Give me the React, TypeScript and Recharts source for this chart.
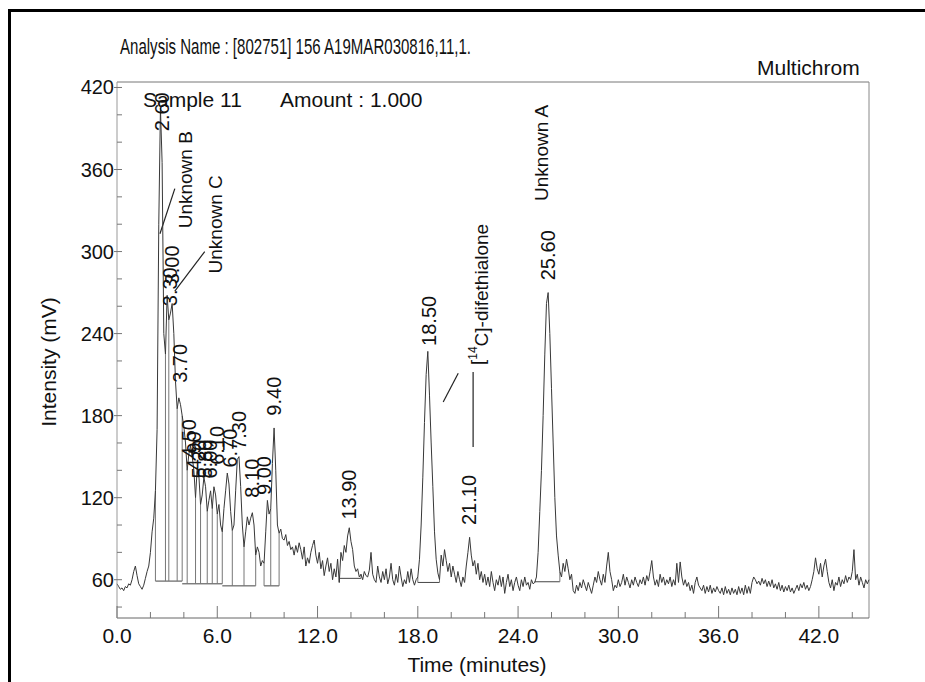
import { LineChart, Line, XAxis, YAxis, ReferenceLine, ReferenceDot } from 'recharts';

// detector trace, one row per minute, 10 samples per minute (0.1 min apart)
const traceRows: number[][] = [
  [57, 55, 53, 54, 52, 55, 54, 57, 56, 60],
  [66, 70, 63, 57, 55, 53, 56, 61, 66, 70],
  [80, 95, 105, 125, 170, 320, 405, 365, 240, 225],
  [268, 250, 255, 262, 240, 205, 185, 193, 188, 180],
  [172, 160, 140, 152, 158, 150, 140, 120, 142, 136],
  [115, 122, 135, 128, 110, 118, 125, 112, 128, 122],
  [108, 115, 100, 95, 112, 125, 138, 130, 110, 96],
  [100, 125, 148, 150, 128, 100, 84, 95, 106, 100],
  [105, 109, 100, 78, 84, 80, 70, 74, 72, 95],
  [118, 108, 112, 145, 171, 140, 100, 94, 97, 90],
  [89, 93, 85, 88, 82, 84, 78, 85, 80, 87],
  [82, 75, 84, 70, 76, 72, 80, 85, 89, 78],
  [72, 80, 68, 74, 63, 70, 76, 66, 72, 60],
  [68, 62, 75, 58, 80, 74, 85, 80, 92, 98],
  [88, 82, 70, 66, 68, 62, 64, 60, 66, 63],
  [62, 67, 80, 64, 60, 58, 70, 62, 58, 66],
  [60, 68, 57, 62, 72, 60, 56, 64, 58, 70],
  [62, 55, 60, 57, 66, 58, 68, 60, 56, 60],
  [62, 75, 100, 135, 175, 210, 227, 195, 160, 128],
  [95, 75, 65, 60, 78, 70, 82, 74, 66, 72],
  [62, 70, 64, 58, 66, 60, 55, 62, 58, 70],
  [80, 91, 78, 70, 74, 64, 72, 60, 66, 58],
  [64, 56, 62, 55, 66, 58, 52, 60, 56, 63],
  [55, 62, 50, 58, 64, 55, 60, 52, 58, 62],
  [56, 52, 60, 55, 62, 56, 58, 53, 60, 57],
  [58, 62, 80, 110, 140, 180, 225, 262, 270, 240],
  [200, 160, 120, 92, 78, 66, 62, 72, 66, 75],
  [68, 60, 64, 52, 50, 56, 52, 58, 54, 60],
  [56, 52, 58, 54, 50, 56, 62, 58, 66, 60],
  [56, 64, 58, 70, 80, 66, 60, 52, 56, 54],
  [60, 55, 58, 64, 56, 62, 58, 54, 60, 56],
  [62, 58, 55, 60, 57, 62, 56, 63, 59, 66],
  [74, 62, 56, 60, 55, 64, 58, 62, 56, 60],
  [57, 62, 55, 60, 56, 72, 58, 73, 62, 56],
  [60, 55, 58, 52, 56, 50, 58, 62, 56, 54],
  [52, 56, 50, 55, 51, 56, 50, 54, 51, 55],
  [52, 50, 54, 49, 55, 50, 53, 49, 54, 50],
  [53, 49, 55, 50, 54, 49, 56, 50, 55, 50],
  [58, 62, 60, 57, 59, 56, 61, 57, 60, 55],
  [59, 55, 60, 54, 57, 53, 58, 52, 56, 51],
  [55, 52, 56, 51, 54, 50, 53, 56, 52, 57],
  [54, 58, 53, 56, 52, 55, 60, 66, 76, 68],
  [64, 72, 62, 70, 75, 66, 58, 54, 60, 52],
  [58, 56, 62, 55, 60, 57, 63, 58, 62, 60],
  [66, 82, 60, 64, 56, 62, 58, 54, 60, 57],
  [60],
];
const samplesPerMinute = 10;

const xTicks = [0, 2, 4, 6, 8, 10, 12, 14, 16, 18, 20, 22, 24, 26, 28, 30, 32, 34, 36, 38, 40, 42, 44];
const yTicks = [40, 60, 80, 100, 120, 140, 160, 180, 200, 220, 240, 260, 280, 300, 320, 340, 360, 380, 400, 420];

// integration baselines and drop lines
const baselineRuns = [
  { from: 2.3, to: 3.9, level: 59 },
  { from: 3.9, to: 6.3, level: 57 },
  { from: 6.3, to: 8.3, level: 55.5 },
  { from: 8.8, to: 9.7, level: 55.5 },
  { from: 13.3, to: 14.6, level: 61 },
  { from: 18.0, to: 19.3, level: 58 },
  { from: 25.0, to: 26.5, level: 58.5 },
];
const dropTimes = [2.3, 2.9, 3.1, 3.6, 3.9, 4.2, 4.7, 5.0, 5.4, 5.7, 6.0, 6.3, 6.9, 7.6, 8.3, 8.8, 9.2, 9.7, 13.3, 14.6, 18.0, 19.3, 25.0, 26.5];

// retention-time labels: where the text starts (t, mV)
const peakLabels = [
  { t: 2.69, v: 388, text: '2.60' },
  { t: 3.16, v: 260, text: '3.30' },
  { t: 3.28, v: 276, text: '3.00' },
  { t: 3.76, v: 204, text: '3.70' },
  { t: 4.3, v: 149, text: '4.50' },
  { t: 4.6, v: 140, text: '4.90' },
  { t: 4.9, v: 134, text: '5.20' },
  { t: 5.25, v: 134, text: '5.80' },
  { t: 5.55, v: 134, text: '6.00' },
  { t: 5.97, v: 144, text: '6.10' },
  { t: 6.75, v: 142, text: '6.70' },
  { t: 7.28, v: 155, text: '7.30' },
  { t: 8.06, v: 120, text: '8.10' },
  { t: 8.78, v: 122, text: '9.00' },
  { t: 9.37, v: 180, text: '9.40' },
  { t: 13.9, v: 104, text: '13.90' },
  { t: 18.63, v: 231, text: '18.50' },
  { t: 21.08, v: 100, text: '21.10' },
  { t: 25.8, v: 279, text: '25.60' },
];
const nameLabels = [
  { t: 4.06, v: 317, text: 'Unknown B' },
  { t: 5.85, v: 284, text: 'Unknown C' },
  { t: 25.37, v: 337, text: 'Unknown A' },
  { t: 21.55, v: 217, text: 'difethialone' },
];
const leaders = [
  { t1: 2.57, v1: 313, t2: 3.46, v2: 346 },
  { t1: 3.46, v1: 271, t2: 5.25, v2: 300 },
  { t1: 19.52, v1: 190, t2: 20.42, v2: 211 },
  { t1: 21.31, v1: 157, t2: 21.31, v2: 212 },
];

const font = '"Liberation Sans", Arial, sans-serif';

const trace = traceRows.flatMap((row, m) =>
  row.map((mv, i) => ({ t: Math.round((m + i / samplesPerMinute) * 10) / 10, mv }))
);
const valueAt = (t: number) => trace[Math.round(t * samplesPerMinute)].mv;
const levelAt = (t: number) => {
  const run = baselineRuns.find((r) => t >= r.from - 0.001 && t <= r.to + 0.001);
  return run ? run.level : 58;
};

function VText(props: any) {
  const vb = props.viewBox || {};
  const x = (vb.x ?? 0) + (vb.width ?? 0) / 2;
  const y = (vb.y ?? 0) + (vb.height ?? 0) / 2;
  const isDife = props.text === 'difethialone';
  return (
    <text
      transform={`translate(${x},${y}) rotate(-90)`}
      dy="0.36em"
      textAnchor="start"
      fontSize={props.size || 20}
      fontFamily={font}
      fill="#111"
    >
      {isDife ? (
        <>
          [<tspan fontSize={12} dy="-0.6em">14</tspan>
          <tspan dy="0.6em">C]-difethialone</tspan>
        </>
      ) : (
        props.text
      )}
    </text>
  );
}

function YTick({ x, y, payload }: any) {
  const major = payload.value % 60 === 0;
  return (
    <g>
      <line x1={major ? x - 3 : x} x2={x + 5} y1={y} y2={y} stroke="#777" />
      {major && (
        <text x={x - 3} y={y} dy="0.35em" textAnchor="end" fontSize={20} fontFamily={font} fill="#111">
          {payload.value}
        </text>
      )}
    </g>
  );
}

function XTick({ x, y, payload }: any) {
  const major = payload.value % 6 === 0;
  return (
    <g>
      <line x1={x} x2={x} y1={y} y2={y - (major ? 12 : 6)} stroke="#777" />
      {major && (
        <text x={x} y={y + 25} textAnchor="middle" fontSize={21} fontFamily={font} fill="#111">
          {payload.value.toFixed(1)}
        </text>
      )}
    </g>
  );
}

export default function App() {
  return (
    <div style={{ position: 'absolute', left: 0, top: 0, width: 925, height: 682, background: '#fff', overflow: 'hidden' }}>
      <div
        style={{
          position: 'absolute',
          left: 8,
          top: 9,
          width: 917,
          height: 673,
          borderTop: '3px solid #000',
          borderLeft: '3px solid #000',
          boxSizing: 'border-box',
        }}
      />
      <div style={{ position: 'absolute', left: 0, top: 0 }}>
        <LineChart width={925} height={682} data={trace} margin={{ top: 82, right: 56, bottom: 34, left: 0 }}>
          <XAxis
            dataKey="t"
            type="number"
            domain={[0, 45]}
            ticks={xTicks}
            interval={0}
            height={30}
            tickSize={0}
            tickMargin={0}
            tick={<XTick />}
            axisLine={{ stroke: '#666' }}
          />
          <YAxis
            type="number"
            domain={[32, 424]}
            ticks={yTicks}
            interval={0}
            width={117}
            tickSize={0}
            tickMargin={0}
            tick={<YTick />}
            axisLine={{ stroke: '#999' }}
            allowDataOverflow
          />
          <ReferenceLine y={424} stroke="#777" />
          <ReferenceLine x={45} stroke="#888" />
          {baselineRuns.map((r, i) => (
            <ReferenceLine
              key={'b' + i}
              segment={[{ x: r.from, y: r.level }, { x: r.to, y: r.level }]}
              stroke="#444"
            />
          ))}
          {dropTimes.map((t, i) => (
            <ReferenceLine
              key={'d' + i}
              segment={[{ x: t, y: levelAt(t) }, { x: t, y: valueAt(t) }]}
              stroke="#777"
            />
          ))}
          {leaders.map((l, i) => (
            <ReferenceLine
              key={'l' + i}
              segment={[{ x: l.t1, y: l.v1 }, { x: l.t2, y: l.v2 }]}
              stroke="#222"
              strokeWidth={1.2}
            />
          ))}
          <Line
            type="linear"
            dataKey="mv"
            stroke="#383838"
            strokeWidth={1}
            dot={false}
            isAnimationActive={false}
          />
          {peakLabels.map((p, i) => (
            <ReferenceDot key={'p' + i} x={p.t} y={p.v} r={0} stroke="none" fill="none" label={<VText text={p.text} size={20} />} />
          ))}
          {nameLabels.map((p, i) => (
            <ReferenceDot key={'n' + i} x={p.t} y={p.v} r={0} stroke="none" fill="none" label={<VText text={p.text} size={19} />} />
          ))}
        </LineChart>
      </div>
      <svg width={925} height={682} style={{ position: 'absolute', left: 0, top: 0, pointerEvents: 'none' }}>
        <g fontFamily={font} fill="#111">
          <text x={120} y={54} fontSize={22} textLength={351} lengthAdjust="spacingAndGlyphs">
            Analysis Name : [802751] 156 A19MAR030816,11,1.
          </text>
          <text x={757} y={75} fontSize={21}>Multichrom</text>
          <text x={143} y={107} fontSize={21}>Sample 11</text>
          <text x={280} y={107} fontSize={21}>Amount : 1.000</text>
          <text transform="translate(56,362) rotate(-90)" textAnchor="middle" fontSize={21}>Intensity (mV)</text>
          <text x={477} y={672} textAnchor="middle" fontSize={21}>Time (minutes)</text>
        </g>
      </svg>
    </div>
  );
}
